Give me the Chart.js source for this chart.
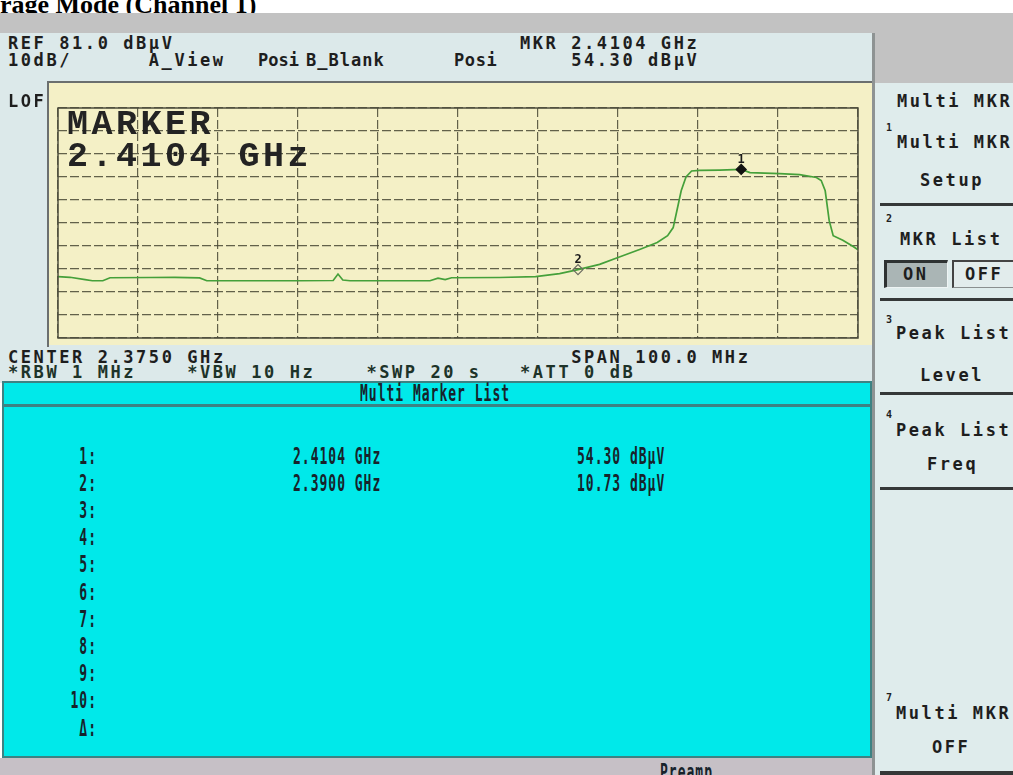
<!DOCTYPE html>
<html>
<head>
<meta charset="utf-8">
<script src="https://cdn.jsdelivr.net/npm/chart.js@4.4.1/dist/chart.umd.min.js"></script>
<style>
  html, body { margin: 0; padding: 0; background: #fff; }
  #screen { position: relative; width: 1013px; height: 775px; overflow: hidden; background: #fff; }
  .box { position: absolute; }
  .hd { position: absolute; white-space: pre; font-family: "DejaVu Sans Mono", monospace; font-weight: bold;
        font-size: 17px; line-height: 16px; letter-spacing: 2.57px; color: #1e1e1e; }
  .ls { position: absolute; white-space: pre; font-family: "DejaVu Sans Mono", monospace; font-weight: bold;
        font-size: 13px; line-height: 13px; letter-spacing: 1px; color: #17232b;
        transform: scaleY(1.7); transform-origin: 0 50%; }
  .sup { position: absolute; font-family: "DejaVu Sans Mono", monospace; font-weight: bold; font-size: 10px;
         line-height: 10px; color: #1e1e1e; }
  #title { position: absolute; left: 0; top: -8px; white-space: pre; font-family: "Liberation Serif", "Times New Roman", serif;
           font-weight: bold; font-size: 26px; line-height: 26px; color: #000; }
  #bigmk { position: absolute; left: 67px; white-space: pre; font-family: "Liberation Mono", "Courier New", monospace;
           font-weight: bold; font-size: 35px; line-height: 32px; letter-spacing: 3.5px; color: #232323; }
  #plotWrap { position: absolute; left: 48px; top: 82px; width: 824px; height: 263px; background: #f4f0c6; }
  #plotWrap canvas { position: absolute; left: 0; top: 0; }
</style>
</head>
<body>
<div id="screen">
  <div id="title">rage Mode (Channel 1)</div>

  <!-- instrument panels -->
  <div class="box" style="left:0;top:13px;width:1013px;height:20px;background:#c2c2c2"></div>
  <div class="box" style="left:875px;top:13px;width:138px;height:70px;background:#c2c2c2"></div>
  <div class="box" style="left:0;top:33px;width:872px;height:350px;background:#dce9ea"></div>
  <div class="box" style="left:875px;top:83px;width:138px;height:692px;background:#dfecec"></div>
  <div class="box" style="left:872px;top:33px;width:3px;height:742px;background:#8e9393"></div>

  <!-- graticule area -->
  <div id="plotWrap"><canvas id="spec" width="824" height="263"></canvas></div>
  <div class="box" style="left:47px;top:81px;width:825px;height:2px;background:#6b6f6f"></div>
  <div class="box" style="left:47px;top:81px;width:2px;height:266px;background:#6b6f6f"></div>
  <div id="bigmk"></div>

  <!-- marker list -->
  <div class="box" style="left:2px;top:381px;width:870px;height:377px;background:#00e9ea;border:2px solid #3d8283;box-sizing:border-box"></div>
  <div class="box" style="left:2px;top:404px;width:870px;height:3px;background:#3d8283"></div>
  <div class="box" style="left:0;top:758px;width:872px;height:17px;background:#c6c0c6"></div>

  <!-- softkey separators and toggle -->
  <div class="box" style="left:880px;top:203px;width:133px;height:3px;background:#353838"></div>
  <div class="box" style="left:880px;top:298px;width:133px;height:3px;background:#353838"></div>
  <div class="box" style="left:880px;top:392px;width:133px;height:3px;background:#353838"></div>
  <div class="box" style="left:880px;top:487px;width:133px;height:3px;background:#353838"></div>
  <div class="box" style="left:880px;top:771px;width:133px;height:4px;background:#353838"></div>
  <div class="box" style="left:884px;top:260px;width:64px;height:28px;background:#aab5b5;box-sizing:border-box;border-left:3px solid #2e3232;border-top:3px solid #2e3232;border-right:1px solid #eef4f4;border-bottom:1px solid #eef4f4"></div>
  <div class="box" style="left:952px;top:260px;width:61px;height:28px;background:#e2ecec;box-sizing:border-box;border-left:2px solid #444;border-top:2px solid #444;border-bottom:1px solid #8a8f8f"></div>

  <div id="texts"></div>
</div>

<script>
// ---- instrument settings ----
const REF_LEVEL = 81.0;      // dBµV at top graticule line
const DB_PER_DIV = 10;
const Y_DIVS = 10;
const CENTER_MHZ = 2375.0;
const SPAN_MHZ = 100.0;
const X_DIVS = 10;

// ---- measured trace (frequency in MHz, level in dBµV) ----
const traceFreqMHz = [
  2325.0, 2326.5, 2328.4, 2329.3, 2330.6, 2331.5, 2336.5, 2339.6, 2342.7, 2343.6,
  2349.0, 2355.2, 2359.4, 2360.0, 2360.6, 2361.5, 2367.7, 2371.5, 2372.5, 2373.4,
  2374.2, 2380.2, 2384.7, 2387.7, 2390.0, 2392.7, 2395.0, 2397.7, 2399.9, 2401.2,
  2401.9, 2402.4, 2402.9, 2403.5, 2404.2, 2405.2, 2407.7, 2410.4, 2411.5, 2415.2,
  2417.7, 2419.8, 2420.4, 2420.9, 2421.4, 2421.9, 2423.1, 2424.4, 2425.0
];
const traceLevel = [
  7.7, 7.4, 6.4, 5.9, 5.9, 7.2, 7.3, 7.4, 7.1, 5.9,
  5.9, 5.9, 6.0, 8.8, 6.2, 5.9, 5.9, 5.9, 7.0, 6.4,
  7.2, 7.3, 7.7, 9.0, 10.73, 13.0, 16.0, 19.5, 22.5, 25.5,
  29.0, 37.0, 45.0, 51.0, 53.6, 53.9, 54.0, 54.30, 52.9, 52.5,
  52.0, 50.8, 49.5, 45.0, 32.0, 25.5, 23.5, 20.8, 19.4
];

// ---- markers ----
const markerIds = ['1', '2'];
const markerFreqMHz = [2410.4, 2390.0];
const markerLevel = [54.30, 10.73];
const markerFilled = [true, false];

// ---- list rows ----
const listLabels = ['1:', '2:', '3:', '4:', '5:', '6:', '7:', '8:', '9:', '10:', '\u0394:'];

const ghz = mhz => (mhz / 1000).toFixed(4) + ' GHz';
const dbuv = v => v.toFixed(2) + ' dB\u00b5V';

// ---- text layout helpers ----
const CELL = 12.8;
const textLayer = document.getElementById('texts');
function put(cls, str, left, centerY, extra) {
  const el = document.createElement('div');
  el.className = cls;
  el.textContent = str;
  const half = cls === 'hd' ? 7.6 : cls === 'ls' ? 6.5 : 5;
  el.style.left = left + 'px';
  el.style.top = (centerY - half) + 'px';
  if (extra) Object.assign(el.style, extra);
  textLayer.appendChild(el);
  return el;
}
function col(c) { return 8 + c * CELL; }

// header
put('hd', 'REF ' + REF_LEVEL.toFixed(1) + ' dB\u00b5V', col(0), 43);
put('hd', 'MKR ' + ghz(markerFreqMHz[0]), col(40), 43);
put('hd', DB_PER_DIV + 'dB/', col(0), 60);
put('hd', 'A_View', col(11), 60);
put('hd', 'Posi', 258, 60, {letterSpacing: '0px'});
put('hd', 'B_Blank', 306, 60, {letterSpacing: '1px'});
put('hd', 'Posi', 454, 60, {letterSpacing: '0.6px'});
put('hd', dbuv(markerLevel[0]), col(44), 60);
put('hd', 'LOF', col(0), 101);
put('hd', 'CENTER ' + ghz(CENTER_MHZ), col(0), 357);
put('hd', 'SPAN ' + SPAN_MHZ.toFixed(1) + ' MHz', col(44), 357);
put('hd', '*RBW 1 MHz', col(0), 372, {color: '#1d3329'});
put('hd', '*VBW 10 Hz', col(14), 372, {color: '#1d3329'});
put('hd', '*SWP 20 s', col(28), 372, {color: '#1d3329'});
put('hd', '*ATT 0 dB', col(40), 372, {color: '#1d3329'});

// big marker readout inside the graticule
const big = document.getElementById('bigmk');
big.textContent = 'MARKER\n' + (markerFreqMHz[0] / 1000).toFixed(4) + ' GHz';
big.style.top = '109px';

// marker list
put('ls', 'Multi Marker List', 360, 393);
listLabels.forEach((lab, i) => {
  const cy = 456 + i * 27.2;
  put('ls', lab, 0, cy, {left: 'auto', right: (1013 - 97) + 'px', textAlign: 'right'});
  if (i < markerIds.length) {
    put('ls', ghz(markerFreqMHz[i]), 293, cy);
    put('ls', dbuv(markerLevel[i]), 577, cy);
  }
});
put('ls', 'Preamp', 660, 772);

// softkeys
put('hd', 'Multi MKR', 897, 101);
put('sup', '1', 886, 128);
put('hd', 'Multi MKR', 897, 142);
put('hd', 'Setup', 920, 180);
put('sup', '2', 886, 219);
put('hd', 'MKR List', 900, 239);
put('hd', 'ON', 903, 274);
put('hd', 'OFF', 965, 274);
put('sup', '3', 886, 320);
put('hd', 'Peak List', 896, 333);
put('hd', 'Level', 920, 375);
put('sup', '4', 886, 415);
put('hd', 'Peak List', 896, 430);
put('hd', 'Freq', 927, 464);
put('sup', '7', 886, 698);
put('hd', 'Multi MKR', 896, 713);
put('hd', 'OFF', 932, 747);

// ---- spectrum plot ----
const startMHz = CENTER_MHZ - SPAN_MHZ / 2;
const stopMHz = CENTER_MHZ + SPAN_MHZ / 2;
const bottomLevel = REF_LEVEL - DB_PER_DIV * Y_DIVS;

const traceData = traceFreqMHz.map((f, i) => ({x: f, y: traceLevel[i]}));
const markerData = markerFreqMHz.map((f, i) => ({x: f, y: markerLevel[i]}));

const gridColor = 'rgba(72,72,52,0.85)';
const divTicks = (lo, hi, n) => Array.from({length: n + 1}, (_, i) => ({value: lo + (hi - lo) * i / n}));

const graticuleFrame = {
  id: 'graticuleFrame',
  afterDatasetsDraw(chart) {
    const {ctx, chartArea: a, scales} = chart;
    ctx.save();
    ctx.strokeStyle = '#4d4d3e';
    ctx.lineWidth = 1.5;
    ctx.strokeRect(a.left, a.top, a.right - a.left, a.bottom - a.top);
    // marker numbers above each marker symbol
    ctx.fillStyle = '#1a1a1a';
    ctx.font = 'bold 12px "DejaVu Sans Mono", monospace';
    ctx.textAlign = 'center';
    ctx.textBaseline = 'bottom';
    markerIds.forEach((id, i) => {
      const x = scales.x.getPixelForValue(markerFreqMHz[i]);
      const y = scales.y.getPixelForValue(markerLevel[i]);
      ctx.fillText(id, x, y - 4);
    });
    ctx.restore();
  }
};

new Chart(document.getElementById('spec'), {
  type: 'line',
  data: {
    datasets: [
      {
        data: markerData,
        showLine: false,
        pointStyle: 'rectRot',
        pointRadius: 5,
        pointBackgroundColor: markerFilled.map(f => f ? '#111' : 'rgba(0,0,0,0)'),
        pointBorderColor: markerFilled.map(f => f ? '#111' : '#6a6a60'),
        pointBorderWidth: 1.2,
        order: 0
      },
      {
        data: traceData,
        borderColor: '#45a03a',
        borderWidth: 1.7,
        pointRadius: 0,
        tension: 0,
        fill: false,
        order: 1
      }
    ]
  },
  options: {
    responsive: false,
    animation: false,
    layout: {padding: {left: 10, right: 14, top: 26, bottom: 7}},
    plugins: {legend: {display: false}, tooltip: {enabled: false}},
    scales: {
      x: {
        type: 'linear', min: startMHz, max: stopMHz,
        afterBuildTicks: s => { s.ticks = divTicks(startMHz, stopMHz, X_DIVS); },
        ticks: {display: false},
        grid: {color: gridColor, lineWidth: 1.2, drawTicks: false},
        border: {display: false, dash: [9, 3]}
      },
      y: {
        type: 'linear', min: bottomLevel, max: REF_LEVEL,
        afterBuildTicks: s => { s.ticks = divTicks(bottomLevel, REF_LEVEL, Y_DIVS); },
        ticks: {display: false},
        grid: {color: gridColor, lineWidth: 1.2, drawTicks: false},
        border: {display: false, dash: [9, 3]}
      }
    }
  },
  plugins: [graticuleFrame]
});
</script>
</body>
</html>
